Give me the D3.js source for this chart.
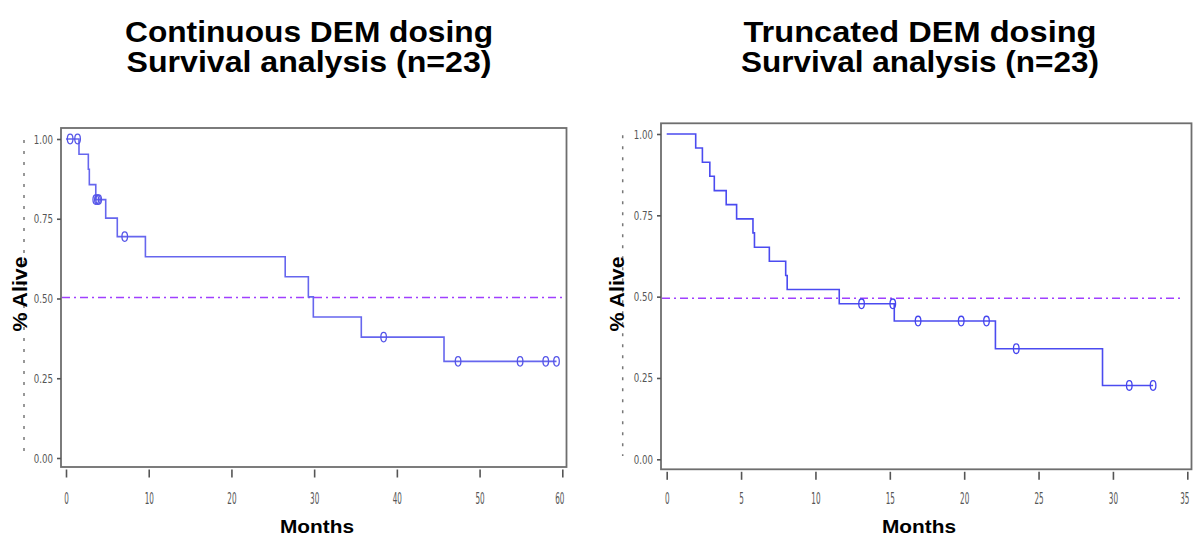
<!DOCTYPE html>
<html>
<head>
<meta charset="utf-8">
<script src="https://cdn.jsdelivr.net/npm/d3@7/dist/d3.min.js"></script>
<style>
  html, body { margin: 0; padding: 0; background: #fff; }
  svg { display: block; }
</style>
</head>
<body>
<svg id="chart" width="1193" height="537"></svg>
<script>
// Kaplan–Meier survival, continuous DEM dosing (months / survival probability)
const contEventMonths = [1.57, 2.70, 2.82, 3.60, 4.80, 6.20, 9.60, 26.5, 29.3, 29.9, 35.7, 45.7];
const contSurvival    = [0.952, 0.905, 0.857, 0.810, 0.752, 0.694, 0.631, 0.568, 0.505, 0.442, 0.379, 0.303];
const contCensorMonths = [0.5, 1.4, 3.6, 3.8, 3.95, 7.1, 38.4, 47.4, 54.9, 58.0, 59.3];
const contCensorSurv   = [1.0, 1.0, 0.810, 0.810, 0.810, 0.694, 0.379, 0.303, 0.303, 0.303, 0.303];
const contLastMonth = 59.3;

// Kaplan–Meier survival, truncated DEM dosing
const truncEventMonths = [1.95, 2.4, 2.9, 3.2, 4.0, 4.7, 5.8, 5.9, 6.9, 8.0, 8.1, 11.6, 15.3, 22.1, 29.3];
const truncSurvival    = [0.957, 0.913, 0.870, 0.826, 0.783, 0.739, 0.696, 0.652, 0.609, 0.565, 0.522, 0.478, 0.425, 0.340, 0.227];
const truncCensorMonths = [13.1, 15.2, 16.9, 19.8, 21.5, 23.5, 31.1, 32.7];
const truncCensorSurv   = [0.478, 0.478, 0.425, 0.425, 0.425, 0.340, 0.227, 0.227];
const truncLastMonth = 32.7;

// Axis ticks and reference lines
const yTickValues = [0, 0.25, 0.5, 0.75, 1.0];
const contXTicks = [0, 10, 20, 30, 40, 50, 60];
const truncXTicks = [0, 5, 10, 15, 20, 25, 30, 35];
const contMedianLine = 0.503;
const truncMedianLine = 0.495;

const titles = [
  ["Continuous DEM dosing", "Survival analysis (n=23)"],
  ["Truncated DEM dosing", "Survival analysis (n=23)"]
];

const svg = d3.select("#chart");
const boldFont = "'Liberation Sans', Arial, Helvetica, sans-serif";
const tickFont = "'DejaVu Sans Condensed', 'DejaVu Sans', sans-serif";

// squeeze a tick label horizontally about its anchor so it reads as a narrow face
function squeeze(sel, targetPerChar, anchorX) {
  sel.each(function() {
    const t = d3.select(this);
    const natural = this.getComputedTextLength();
    const n = this.textContent.length;
    const sx = Math.min(1, (targetPerChar * n) / natural);
    t.attr("x", anchorX / sx).attr("transform", `scale(${sx},1)`);
  });
}

function drawPanel(p) {
  const g = svg.append("g");
  const x = d3.scaleLinear().domain(p.xDomain).range(p.xRange);
  const y = d3.scaleLinear().domain([0, 1]).range(p.yRange);

  // titles
  p.title.forEach((t, i) => {
    g.append("text")
      .attr("x", p.titleX).attr("y", 42 + i * 29.5)
      .attr("text-anchor", "middle")
      .attr("font-family", boldFont).attr("font-weight", "bold")
      .attr("font-size", 29)
      .attr("textLength", p.titleW[i]).attr("lengthAdjust", "spacingAndGlyphs")
      .attr("fill", "#000")
      .text(t);
  });

  // dotted guide behind the y label
  g.append("line")
    .attr("x1", p.guideX).attr("x2", p.guideX)
    .attr("y1", p.frame.top + 12).attr("y2", 456)
    .attr("stroke", "#777").attr("stroke-width", 1.5)
    .attr("stroke-dasharray", "3,8");

  // y label
  g.append("text")
    .attr("transform", `translate(${p.yLabelX},294) rotate(-90)`)
    .attr("text-anchor", "middle")
    .attr("font-family", boldFont).attr("font-weight", "bold")
    .attr("font-size", 20)
    .attr("textLength", 75).attr("lengthAdjust", "spacingAndGlyphs")
    .attr("fill", "#000")
    .text("% Alive");

  // x label
  g.append("text")
    .attr("x", p.xLabelX).attr("y", 533)
    .attr("text-anchor", "middle")
    .attr("font-family", boldFont).attr("font-weight", "bold")
    .attr("font-size", 19)
    .attr("textLength", 74).attr("lengthAdjust", "spacingAndGlyphs")
    .attr("fill", "#000")
    .text("Months");

  // frame
  const f = p.frame;
  g.append("rect")
    .attr("x", f.left).attr("y", f.top)
    .attr("width", f.right - f.left).attr("height", f.bottom - f.top)
    .attr("fill", "none").attr("stroke", "#6e6e6e").attr("stroke-width", 1.8);

  // y axis
  const yAxis = g.append("g")
    .attr("transform", `translate(${f.left},0)`)
    .call(d3.axisLeft(y).tickValues(yTickValues).tickSize(4).tickPadding(4)
      .tickFormat(d3.format(".2f")));
  yAxis.select(".domain").remove();
  yAxis.selectAll("line").attr("stroke", "#555").attr("stroke-width", 1.6);
  const yText = yAxis.selectAll("text")
    .attr("font-family", tickFont).attr("font-size", 12.5).attr("fill", "#555");
  squeeze(yText, 4.8, -8);

  // x axis
  const xAxis = g.append("g")
    .attr("transform", `translate(0,${f.bottom + 2.5})`)
    .call(d3.axisBottom(x).tickValues(p.xTicks).tickSize(8).tickPadding(p.xPad)
      .tickFormat(d3.format("d")));
  xAxis.select(".domain").remove();
  xAxis.selectAll("line").attr("stroke", "#555").attr("stroke-width", 1.6);
  const xText = xAxis.selectAll("text")
    .attr("font-family", tickFont).attr("font-size", 15).attr("fill", "#555");
  squeeze(xText, 4.6, 0);
  // nudge the outermost label so it stays clear of the page edge
  xText.filter(d => d === p.xTicks[p.xTicks.length - 1] && x(d) + 5 > f.right - 3)
    .each(function() {
      const t = d3.select(this);
      const sx = +t.attr("transform").match(/scale\(([^,]+)/)[1];
      t.attr("x", -3 / sx);
    });

  // median reference line
  g.append("line")
    .attr("x1", f.left + 1).attr("x2", p.medianEnd)
    .attr("y1", y(p.median)).attr("y2", y(p.median))
    .attr("stroke", "#a040ff").attr("stroke-width", 1.6)
    .attr("stroke-dasharray", "8,4,2,4");

  // survival step curve
  const pts = [[0, 1]];
  p.events.forEach((t, i) => pts.push([t, p.surv[i]]));
  pts.push([p.last, p.surv[p.surv.length - 1]]);
  const line = d3.line().x(d => x(d[0])).y(d => y(d[1])).curve(d3.curveStepAfter);
  g.append("path")
    .attr("d", line(pts))
    .attr("fill", "none").attr("stroke", p.color).attr("stroke-width", 1.6);

  // censor marks
  g.selectAll(null).data(p.censorT).enter().append("ellipse")
    .attr("cx", d => x(d)).attr("cy", (d, i) => y(p.censorS[i]))
    .attr("rx", 2.8).attr("ry", 4.8)
    .attr("fill", "none").attr("stroke", p.markColor).attr("stroke-width", 1.3);
}

drawPanel({
  title: titles[0], titleX: 309, titleW: [368, 365],
  xDomain: [0, 60], xRange: [66, 562.3], yRange: [458, 139],
  frame: { left: 61, top: 128, right: 566.5, bottom: 467 },
  xTicks: contXTicks, xPad: 15.5, median: contMedianLine, medianEnd: 566,
  events: contEventMonths, surv: contSurvival, last: contLastMonth,
  censorT: contCensorMonths, censorS: contCensorSurv,
  color: "#6666ee", markColor: "#5555e8",
  guideX: 24, yLabelX: 27, xLabelX: 317
});

drawPanel({
  title: titles[1], titleX: 920, titleW: [353, 358],
  xDomain: [0, 35], xRange: [666.7, 1187.3], yRange: [459.3, 134],
  frame: { left: 661, top: 123.3, right: 1191.5, bottom: 469.3 },
  xTicks: truncXTicks, xPad: 13.5, median: truncMedianLine, medianEnd: 1180,
  events: truncEventMonths, surv: truncSurvival, last: truncLastMonth,
  censorT: truncCensorMonths, censorS: truncCensorSurv,
  color: "#4b4bf0", markColor: "#4444ee",
  guideX: 622.7, yLabelX: 623.5, xLabelX: 919
});
</script>
</body>
</html>
